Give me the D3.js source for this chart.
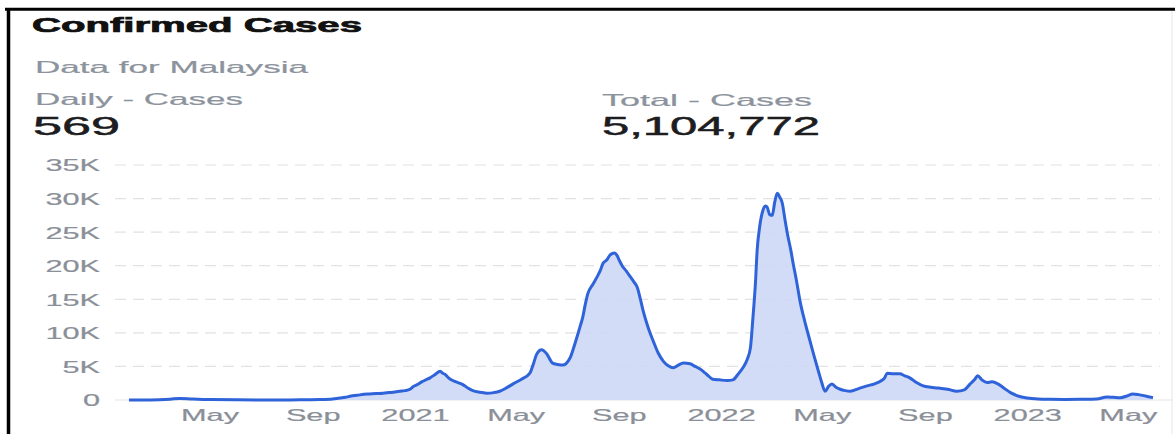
<!DOCTYPE html>
<html>
<head>
<meta charset="utf-8">
<script src="https://cdn.jsdelivr.net/npm/d3@7/dist/d3.min.js"></script>
<style>
  html, body { margin: 0; padding: 0; background: #fff; }
  svg { display: block; font-family: "Liberation Sans", Arial, sans-serif; }
</style>
</head>
<body>
<svg id="chart" width="1175" height="434"></svg>
<script>
// ---- data ----
const dates = [
  "2020-01-26","2020-02-20","2020-03-15","2020-03-27","2020-04-10","2020-05-02","2020-06-01","2020-06-30",
  "2020-07-25","2020-08-17","2020-09-10","2020-09-25","2020-10-03","2020-10-10","2020-10-17","2020-10-24",
  "2020-11-01","2020-11-08","2020-11-16","2020-11-24","2020-12-01","2020-12-08","2020-12-14","2020-12-20",
  "2020-12-26","2020-12-30","2021-01-04","2021-01-09","2021-01-14","2021-01-19","2021-01-25","2021-01-31",
  "2021-02-03","2021-02-06","2021-02-10","2021-02-15","2021-02-21","2021-02-27","2021-03-05","2021-03-11",
  "2021-03-20","2021-03-28","2021-04-05","2021-04-12","2021-04-20","2021-04-28","2021-05-08","2021-05-18",
  "2021-05-22","2021-05-26","2021-06-01","2021-06-07","2021-06-14","2021-06-20","2021-06-26","2021-07-05",
  "2021-07-09","2021-07-13","2021-07-17","2021-07-20","2021-07-23","2021-07-26","2021-08-01","2021-08-06",
  "2021-08-10","2021-08-13","2021-08-18","2021-08-21","2021-08-24","2021-08-27","2021-08-30","2021-09-02",
  "2021-09-05","2021-09-10","2021-09-14","2021-09-19","2021-09-23","2021-09-27","2021-09-30","2021-10-06",
  "2021-10-12","2021-10-18","2021-10-24","2021-10-30","2021-11-05","2021-11-11","2021-11-17","2021-11-25",
  "2021-12-01","2021-12-07","2021-12-15","2021-12-22","2021-12-30","2022-01-08","2022-01-15","2022-01-21",
  "2022-01-27","2022-02-01","2022-02-05","2022-02-08","2022-02-11","2022-02-13","2022-02-16","2022-02-20",
  "2022-02-23","2022-02-25","2022-02-28","2022-03-03","2022-03-06","2022-03-09","2022-03-12","2022-03-15",
  "2022-03-18","2022-03-21","2022-03-25","2022-03-28","2022-04-01","2022-04-05","2022-04-11","2022-04-17",
  "2022-04-22","2022-04-27","2022-05-01","2022-05-05","2022-05-09","2022-05-13","2022-05-18","2022-05-23",
  "2022-05-29","2022-06-04","2022-06-14","2022-06-24","2022-07-03","2022-07-10","2022-07-15","2022-07-18",
  "2022-07-25","2022-08-02","2022-08-08","2022-08-14","2022-08-22","2022-08-30","2022-09-08","2022-09-16",
  "2022-09-28","2022-10-09","2022-10-18","2022-10-25","2022-10-30","2022-11-03","2022-11-08","2022-11-14",
  "2022-11-20","2022-11-27","2022-12-04","2022-12-12","2022-12-21","2023-01-01","2023-01-14","2023-01-28",
  "2023-02-15","2023-03-05","2023-03-25","2023-04-06","2023-04-14","2023-04-22","2023-04-30","2023-05-07",
  "2023-05-14","2023-05-22","2023-05-31"
];
const dailyCases = [
  0,10,120,230,150,60,30,15,
  15,20,60,150,300,400,600,700,
  850,900,950,1000,1100,1200,1300,1400,
  1600,2000,2300,2700,3000,3300,3800,4300,
  4000,3800,3300,2900,2600,2300,1800,1400,
  1150,1000,1100,1300,1800,2400,3100,4000,
  5300,6800,7500,6900,5500,5300,5200,6300,
  7700,9300,11000,12300,14200,15800,17200,18300,
  19300,20300,20900,21500,21800,21900,21500,20700,
  20000,19200,18500,17600,16800,14900,13300,10800,
  8800,7000,5800,5100,4800,5200,5500,5400,
  5000,4600,3800,3100,3000,2900,3000,3800,
  4800,6000,7800,12300,17500,22300,25800,28300,
  28900,28700,27600,27500,29500,30800,30200,29300,
  27000,24800,22400,20300,17700,14800,11600,8800,
  6500,4300,2600,1300,2000,2400,1900,1600,
  1400,1300,1700,2100,2400,2800,3300,4000,
  3900,3900,3600,3300,2600,2100,1900,1800,
  1600,1300,1500,2400,3000,3600,3000,2600,
  2700,2400,1800,1100,600,300,150,100,
  80,100,150,450,400,350,600,900,
  800,600,350
];
const yTickValues = [0, 5000, 10000, 15000, 20000, 25000, 30000, 35000];
const yTickLabels = ["0", "5K", "10K", "15K", "20K", "25K", "30K", "35K"];
const xTickDates = ["2020-05-01","2020-09-01","2021-01-01","2021-05-01","2021-09-01","2022-01-01","2022-05-01","2022-09-01","2023-01-01","2023-05-01"];
const xTickLabels = ["May","Sep","2021","May","Sep","2022","May","Sep","2023","May"];
const headerTitle = "Confirmed Cases";
const headerSubtitle = "Data for Malaysia";
const dailyLabel = "Daily - Cases";
const dailyValue = "569";
const totalLabel = "Total - Cases";
const totalValue = "5,104,772";

// ---- drawing ----
const parse = d3.utcParse("%Y-%m-%d");
const data = dates.map((d, i) => ({ date: parse(d), value: dailyCases[i] }));
const svg = d3.select("#chart");
const SX = 1.86; // the reference picture is stretched horizontally

const x = d3.scaleUtc()
  .domain(d3.extent(data, d => d.date))
  .range([129, 1153]);
const y = d3.scaleLinear().domain([0, 35000]).range([400, 165]);

// frame
svg.append("line").attr("x1", 5).attr("x2", 1175).attr("y1", 9.3).attr("y2", 9.3)
  .attr("stroke", "#000").attr("stroke-width", 3);
svg.append("line").attr("x1", 8.5).attr("x2", 8.5).attr("y1", 8).attr("y2", 434)
  .attr("stroke", "#000").attr("stroke-width", 3.5);
svg.append("line").attr("x1", 1172).attr("x2", 1172).attr("y1", 11).attr("y2", 434)
  .attr("stroke", "#e6e6e6").attr("stroke-width", 1);

// header texts
function headerText(str, xx, yy, size, weight, color, width, thick) {
  svg.append("text").attr("x", xx).attr("y", yy)
    .attr("font-size", size).attr("font-weight", weight).attr("fill", color)
    .attr("stroke", thick ? color : null).attr("stroke-width", thick || null)
    .attr("textLength", width).attr("lengthAdjust", "spacingAndGlyphs")
    .text(str);
}
headerText(headerTitle, 32, 32, 19.5, "bold", "#111", 330, 0.7);
headerText(headerSubtitle, 35, 73, 16.5, "normal", "#8c939d", 273, 0.2);
headerText(dailyLabel, 35, 104.5, 16.5, "normal", "#8c939d", 208, 0.2);
headerText(dailyValue, 33, 135, 26, "normal", "#1d1d1f", 87, 0.5);
headerText(totalLabel, 602, 106, 16.5, "normal", "#8c939d", 210, 0.2);
headerText(totalValue, 602, 135, 26, "normal", "#1d1d1f", 218, 0.5);

// grid
const grid = svg.append("g").attr("class", "grid");
grid.selectAll("line").data(yTickValues).join("line")
  .attr("x1", 115).attr("x2", d => d === 0 ? 1172 : 1160)
  .attr("y1", d => y(d)).attr("y2", d => y(d))
  .attr("stroke", d => d === 0 ? "#e4e4e4" : "#e2e2e2")
  .attr("stroke-width", 1.2)
  .attr("stroke-dasharray", d => d === 0 ? null : "11,7");

// y axis
const yAxis = svg.append("g").attr("transform", "translate(100,0)")
  .call(d3.axisLeft(y).tickValues(yTickValues).tickFormat((d, i) => yTickLabels[i]).tickSize(0).tickPadding(0));
yAxis.select(".domain").remove();
yAxis.selectAll("text")
  .attr("font-size", 16.5).attr("fill", "#8a8f98").attr("font-family", "Liberation Sans, Arial, sans-serif")
  .attr("dy", "0.36em");

// x axis
const xAxis = svg.append("g").attr("transform", "translate(0,400)")
  .call(d3.axisBottom(x).tickValues(xTickDates.map(parse)).tickFormat((d, i) => xTickLabels[i]).tickSize(0).tickPadding(0));
xAxis.select(".domain").remove();
xAxis.selectAll("text")
  .attr("font-size", 16.5).attr("fill", "#8a8f98").attr("font-family", "Liberation Sans, Arial, sans-serif")
  .attr("y", 21).attr("dy", 0);

// stretch axis label glyphs horizontally like the reference
svg.selectAll(".tick text").each(function() {
  const w = this.getComputedTextLength();
  d3.select(this).attr("textLength", w * SX).attr("lengthAdjust", "spacingAndGlyphs")
    .attr("stroke", "#8a8f98").attr("stroke-width", 0.2);
});

// area + line
const area = d3.area().x(d => x(d.date)).y0(y(0)).y1(d => y(d.value)).curve(d3.curveMonotoneX);
const line = d3.line().x(d => x(d.date)).y(d => y(d.value)).curve(d3.curveMonotoneX);
svg.append("path").datum(data).attr("d", area).attr("fill", "#cdd8f5").attr("fill-opacity", 0.9);
svg.append("path").datum(data).attr("d", line).attr("fill", "none")
  .attr("stroke", "#2f63d9").attr("stroke-width", 3).attr("stroke-linejoin", "round");
</script>
</body>
</html>
